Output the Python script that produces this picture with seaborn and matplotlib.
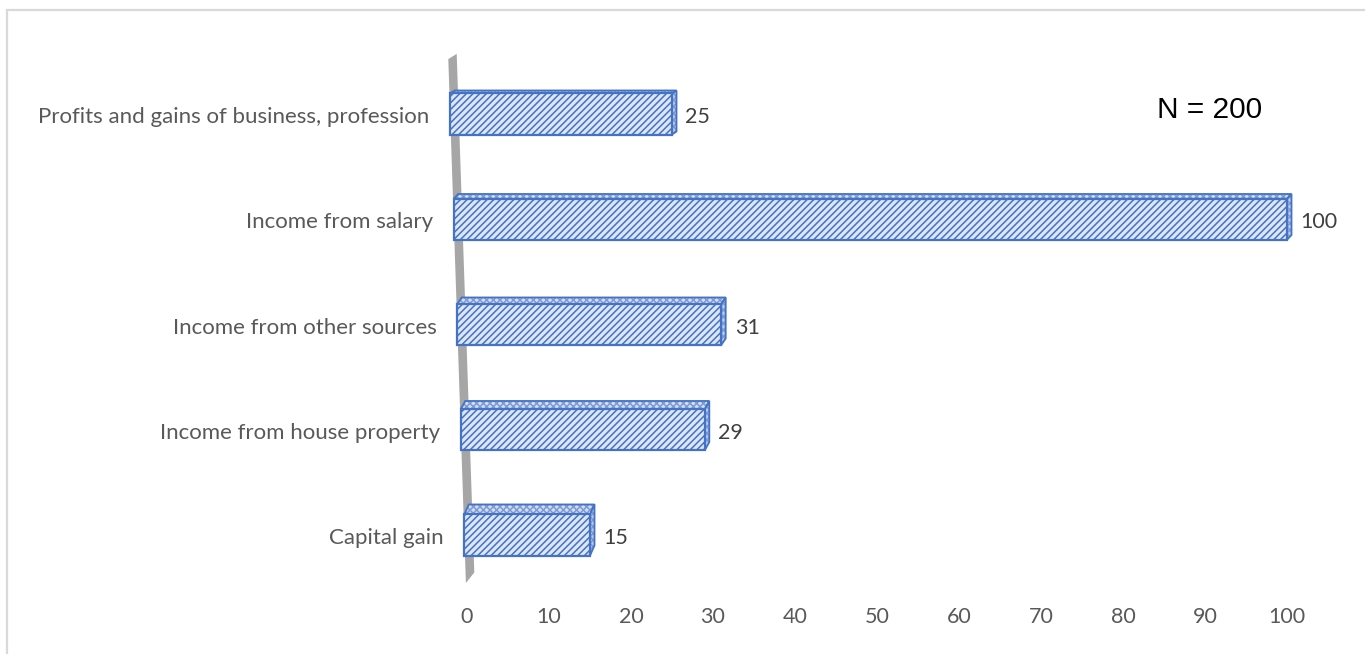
import matplotlib
matplotlib.use("Agg")
import matplotlib.pyplot as plt
from matplotlib.patches import Polygon, Rectangle
import seaborn as sns
import pandas as pd

# Income sources reported by respondents
categories = [
    "Profits and gains of business, profession",
    "Income from salary",
    "Income from other sources",
    "Income from house property",
    "Capital gain",
]
counts = [25, 100, 31, 29, 15]
x_ticks = [0, 10, 20, 30, 40, 50, 60, 70, 80, 90, 100]
note = "N = 200"

df = pd.DataFrame({"source": categories, "count": counts})

sns.set_theme(style="white")
plt.rcParams["font.family"] = ["Lato", "DejaVu Sans"]
plt.rcParams["hatch.linewidth"] = 1.1

W, H = 1365, 654
fig = plt.figure(figsize=(W / 100, H / 100), dpi=100)

# axes placed in pixel terms
ax_l, ax_r, ax_t, ax_b = 420, 1345, 40, 590
ax = fig.add_axes([ax_l / W, 1 - ax_b / H, (ax_r - ax_l) / W, (ax_b - ax_t) / H])

px_per_unit = 8.2
zero_px = 467
xmin = (ax_l - zero_px) / px_per_unit
xmax = (ax_r - zero_px) / px_per_unit
row0_px, row_step = 114, 105.25
ylo = (ax_b - row0_px) / row_step
yhi = (ax_t - row0_px) / row_step

blue = "#4472c4"
face = "#dde6f5"

sns.barplot(data=df, x="count", y="source", order=categories, orient="h",
            width=0.39, color=face, edgecolor=blue, linewidth=1.6,
            hatch="/////", saturation=1, ax=ax)

ax.set_xlim(xmin, xmax)
ax.set_ylim(ylo, yhi)

# slanted back-wall edge: x position (data) as a function of row position
def wall_x(p):
    top_p, bot_p = (57 - row0_px) / row_step, (580 - row0_px) / row_step
    top_x, bot_x = (452.5 - zero_px) / px_per_unit, (470 - zero_px) / px_per_unit
    return top_x + (p - top_p) * (bot_x - top_x) / (bot_p - top_p)

wp_top = (57 - row0_px) / row_step
wp_bot = (583 - row0_px) / row_step
half_w = 4.2 / px_per_unit
wall = Polygon([(wall_x(wp_top) - half_w, wp_top + 0.02),
                (wall_x(wp_top) + half_w, wp_top - 0.03),
                (wall_x(wp_bot) + half_w, wp_bot - 0.10),
                (wall_x(wp_bot) - half_w, wp_bot)],
               closed=True, facecolor="#a6a6a6", edgecolor="none", zorder=1)
ax.add_patch(wall)

dx = 4.5 / px_per_unit
text_drop = 3 / row_step
for i, (patch, val) in enumerate(zip(ax.patches, counts)):
    y0 = patch.get_y()
    h = patch.get_height()
    start = wall_x(y0 + h / 2) - half_w
    patch.set_x(start)
    patch.set_width(val - start)
    patch.set_zorder(3)
    dy = (3 + 1.75 * i) / row_step
    top = y0  # inverted axis: smaller value is higher on screen
    top_pts = [(start, top), (val, top), (val + dx, top - dy), (start + dx, top - dy)]
    side_pts = [(val, top), (val + dx, top - dy), (val + dx, top + h - dy), (val, top + h)]
    for pts, fc in ((top_pts, "#d3ddf1"), (side_pts, "#bccbe8")):
        ax.add_patch(Polygon(pts, closed=True, facecolor=fc, edgecolor="#7d9ad4",
                             linewidth=0, hatch="xxxxx", zorder=2))
        ax.add_patch(Polygon(pts, closed=True, fill=False, edgecolor=blue,
                             linewidth=1.3, zorder=2))
    ax.text(val + dx + 9 / px_per_unit, y0 + h / 2 + text_drop, str(val), ha="left",
            va="center", fontsize=15.5, color="#404040")
    ax.text(wall_x(y0 + h / 2) - 25 / px_per_unit, y0 + h / 2 + text_drop, categories[i],
            ha="right", va="center", fontsize=16, color="#595959")

ax.set_yticks([])
ax.set_ylabel("")
ax.set_xlabel("")
ax.set_xticks(x_ticks)
ax.set_xticklabels([str(t) for t in x_ticks], fontsize=15.5, color="#595959")
ax.tick_params(axis="x", length=0, pad=12)
for s in ax.spines.values():
    s.set_visible(False)
ax.patch.set_alpha(0)

fig.text(1210 / W, 1 - 110 / H, note, ha="center", va="center",
         fontsize=21.5, color="black", family=["Liberation Sans", "DejaVu Sans"])

# outer chart border
fig.add_artist(Rectangle((7 / W, -0.05), 1.1, 1 - 10 / H + 0.05,
                         transform=fig.transFigure, fill=False,
                         edgecolor="#d9d9d9", linewidth=1.6))

fig.savefig("out.png", dpi=100)
